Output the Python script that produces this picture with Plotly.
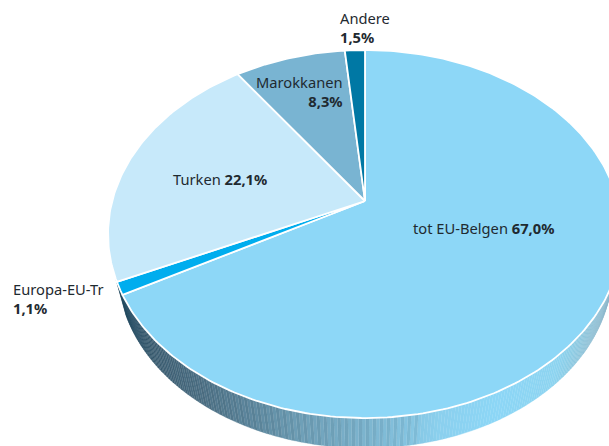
import numpy as np
import plotly.graph_objects as go

# Data (clockwise from 12 o'clock)
categories = ["tot EU-Belgen", "Europa-EU-Tr", "Turken", "Marokkanen", "Andere"]
shares = [67.0, 1.1, 22.1, 8.3, 1.5]
share_labels = ["67,0%", "1,1%", "22,1%", "8,3%", "1,5%"]
colors = ["#8dd7f7", "#00adee", "#c7e9fa", "#79b4d2", "#0078a4"]

W, H = 609, 446
APEX_X, APEX_Y, A, B, K = 365.0, 201.0, 252.8, 178.1, 0.1794   # perspective of the disc
VY, T = 1170.0, 0.04                                           # lower rim shrink


def rim(theta):
    u, v = np.sin(theta), np.cos(theta)
    w = 1 + K * v
    return APEX_X + A * u / w, APEX_Y - B * v / w


def low(theta):
    x, y = rim(theta)
    return APEX_X + (1 - T) * (x - APEX_X), VY + (1 - T) * (y - VY)


side_x = [125, 150, 200, 300, 365, 440, 500, 560, 590, 615]
side_rgb = [(30, 72, 96), (62, 96, 117), (79, 115, 136), (111, 160, 184), (125, 181, 207),
            (139, 208, 238), (141, 215, 247), (141, 212, 240), (143, 196, 218), (143, 185, 204)]

fig = go.Figure()

# side wall
edges = np.radians(np.linspace(88, 246, 240))
for i, (a, b) in enumerate(zip(edges[:-1], edges[1:])):
    xa, ya = rim(a); xb, yb = rim(b)
    xc, yc = low(b); xd, yd = low(a)
    mx = (xa + xb) / 2
    rgb = [np.interp(mx, side_x, [c[j] for c in side_rgb]) for j in range(3)]
    amp = 1.0 if i % 2 else 0.94 if mx < 420 else 1.0
    col = "rgb(%d,%d,%d)" % tuple(int(min(255, c * amp)) for c in rgb)
    fig.add_trace(go.Scatter(x=[xa, xb, xc, xd, xa], y=[ya, yb, yc, yd, ya], mode="lines",
                             fill="toself", fillcolor=col, line=dict(color=col, width=0.3),
                             hoverinfo="skip", showlegend=False))

# slices
cum = np.concatenate([[0], np.cumsum(shares)]) / sum(shares) * 2 * np.pi
for name, a, b, col in zip(categories, cum[:-1], cum[1:], colors):
    t = np.linspace(a, b, max(3, int((b - a) * 60)))
    x, y = rim(t)
    fig.add_trace(go.Scatter(x=np.r_[APEX_X, x, APEX_X], y=np.r_[APEX_Y, y, APEX_Y], mode="lines",
                             fill="toself", fillcolor=col, line=dict(color="white", width=1.8),
                             name=name, showlegend=False))

label_pos = [(411, 228, "left", "{} <b>{}</b>"),
             (11, 298.5, "left", "{}<br><b>{}</b>"),
             (171, 179, "left", "{} <b>{}</b>"),
             (345, 91, "right", "{}<br><b>{}</b>"),
             (338, 27, "left", "{}<br><b>{}</b>")]
for name, lab, (x, y, al, fmt) in zip(categories, share_labels, label_pos):
    fig.add_annotation(x=x, y=y, xref="x", yref="y", text=fmt.format(name, lab), showarrow=False,
                       xanchor=al, yanchor="middle", align=al,
                       font=dict(family="Noto Sans", size=14.7, color="#1f2a30"))

fig.update_xaxes(visible=False, range=[0, W], fixedrange=True)
fig.update_yaxes(visible=False, range=[H, 0], fixedrange=True)
fig.update_layout(width=W, height=H, margin=dict(l=0, r=0, t=0, b=0),
                  paper_bgcolor="white", plot_bgcolor="white", showlegend=False)
fig.write_html("out.html", config=dict(displayModeBar=False),
               post_script="document.body.style.margin='0';document.body.style.overflow='hidden';")
